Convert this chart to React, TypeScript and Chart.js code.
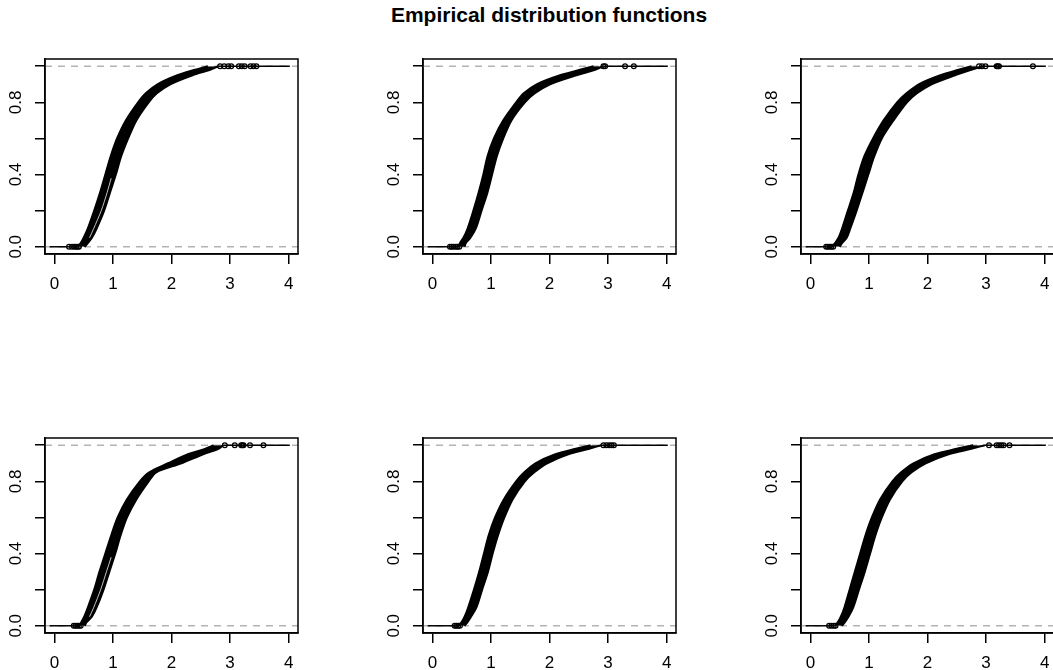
import React, { useEffect, useRef } from 'react';
import { Chart, registerables } from 'chart.js';

Chart.register(...registerables);

const FONT = '"Liberation Sans", Arial, Helvetica, sans-serif';

// ---------- data ----------
const title = 'Empirical distribution functions';
const xTicks = [0, 1, 2, 3, 4];
const xTickLabels = ['0', '1', '2', '3', '4'];
const yTicks = [0, 0.2, 0.4, 0.6, 0.8, 1.0];
const yTickLabels = ['0.0', '', '0.4', '', '0.8', ''];
const xRange = [-0.16, 4.16];
const yRange = [-0.04, 1.04];
const ecdfEnds = [-0.08, 4.02];
const refLines = [0, 1];

// cumulative probability levels at which the outline of the dense band of points was read
const bandLevels = [0, 0.02, 0.05, 0.1, 0.2, 0.3, 0.4, 0.5, 0.6, 0.7, 0.8, 0.85, 0.9, 0.95, 0.98, 1];
// levels of the thin light gap visible inside the band of some panels
const gapLevels = [0.05, 0.1, 0.2, 0.3, 0.38];

const p1Left = [0.40, 0.45, 0.50, 0.57, 0.68, 0.78, 0.87, 0.96, 1.07, 1.22, 1.43, 1.56, 1.76, 2.10, 2.40, 2.62];
const p1Right = [0.52, 0.57, 0.64, 0.72, 0.85, 0.95, 1.05, 1.14, 1.26, 1.40, 1.61, 1.75, 1.98, 2.36, 2.66, 2.80];
const p1Start = [0.25, 0.30, 0.34, 0.37, 0.40, 0.42];
const p1Tail = [2.83, 2.90, 2.97, 3.02, 3.15, 3.20, 3.25, 3.35, 3.40, 3.45];
const p1Gap = [0.60, 0.67, 0.80, 0.90, 0.97];

const p2Left = [0.45, 0.47, 0.53, 0.60, 0.70, 0.79, 0.87, 0.94, 1.05, 1.21, 1.43, 1.56, 1.78, 2.18, 2.52, 2.75];
const p2Right = [0.55, 0.57, 0.65, 0.74, 0.84, 0.94, 1.02, 1.10, 1.21, 1.35, 1.58, 1.75, 2.01, 2.46, 2.78, 2.92];
const p2Start = [0.30, 0.33, 0.36, 0.40, 0.43, 0.46];
const p2Tail = [2.92, 2.95, 3.29, 3.44];
const p2Gap: number[] = [];

const p3Left = [0.37, 0.42, 0.48, 0.54, 0.64, 0.74, 0.82, 0.92, 1.07, 1.25, 1.48, 1.64, 1.85, 2.22, 2.53, 2.75];
const p3Right = [0.50, 0.54, 0.62, 0.68, 0.79, 0.89, 0.99, 1.09, 1.22, 1.42, 1.65, 1.82, 2.07, 2.47, 2.75, 2.95];
const p3Start = [0.27, 0.30, 0.33, 0.36, 0.39];
const p3Tail = [2.88, 2.93, 2.99, 3.18, 3.20, 3.22, 3.80];
const p3Gap: number[] = [];

const p4Left = [0.43, 0.46, 0.51, 0.57, 0.68, 0.77, 0.87, 0.97, 1.08, 1.24, 1.46, 1.62, 1.94, 2.28, 2.57, 2.72];
const p4Right = [0.52, 0.55, 0.64, 0.72, 0.84, 0.94, 1.04, 1.13, 1.24, 1.40, 1.61, 1.74, 2.17, 2.54, 2.80, 2.88];
const p4Start = [0.33, 0.36, 0.39, 0.42, 0.45];
const p4Tail = [2.91, 3.08, 3.19, 3.21, 3.23, 3.34, 3.57];
const p4Gap = [0.60, 0.67, 0.79, 0.89, 0.97];

const p5Left = [0.45, 0.50, 0.55, 0.61, 0.71, 0.80, 0.88, 0.96, 1.07, 1.22, 1.43, 1.57, 1.76, 2.10, 2.45, 2.70];
const p5Right = [0.55, 0.60, 0.66, 0.75, 0.85, 0.95, 1.03, 1.12, 1.23, 1.37, 1.58, 1.74, 1.96, 2.32, 2.68, 2.88];
const p5Start = [0.38, 0.41, 0.44, 0.47];
const p5Tail = [2.92, 2.97, 3.02, 3.06, 3.10];
const p5Gap: number[] = [];

const p6Left = [0.42, 0.47, 0.52, 0.58, 0.67, 0.76, 0.85, 0.94, 1.05, 1.19, 1.40, 1.55, 1.76, 2.12, 2.50, 2.78];
const p6Right = [0.54, 0.59, 0.65, 0.73, 0.83, 0.93, 1.02, 1.11, 1.22, 1.36, 1.57, 1.73, 1.97, 2.36, 2.75, 2.98];
const p6Start = [0.32, 0.36, 0.40, 0.43];
const p6Tail = [3.05, 3.18, 3.22, 3.26, 3.30, 3.40];
const p6Gap: number[] = [];

const panels = [
  { left: p1Left, right: p1Right, start: p1Start, tail: p1Tail, gap: p1Gap },
  { left: p2Left, right: p2Right, start: p2Start, tail: p2Tail, gap: p2Gap },
  { left: p3Left, right: p3Right, start: p3Start, tail: p3Tail, gap: p3Gap },
  { left: p4Left, right: p4Right, start: p4Start, tail: p4Tail, gap: p4Gap },
  { left: p5Left, right: p5Right, start: p5Start, tail: p5Tail, gap: p5Gap },
  { left: p6Left, right: p6Right, start: p6Start, tail: p6Tail, gap: p6Gap },
];

// ---------- layout ----------
const boxLefts = [45, 423, 801];
const boxTops = [59, 438];
const BOX_W = 253;
const BOX_H = 195;
const PAD_L = 45;
const PAD_T = 20;
const PAD_R = 10;
const X_AXIS_H = 50;
const Y_AXIS_W = 10;
const CANVAS_W = PAD_L + BOX_W + PAD_R;
const CANVAS_H = PAD_T + BOX_H + X_AXIS_H;

const rPlotPlugin = {
  id: 'rPlot',
  afterDraw(chart: any) {
    const { ctx, chartArea: a } = chart;
    ctx.save();
    ctx.strokeStyle = '#000';
    ctx.lineWidth = 1.5;
    ctx.strokeRect(a.left, a.top, a.right - a.left, a.bottom - a.top);
    ctx.font = `17px ${FONT}`;
    ctx.fillStyle = '#000';
    ctx.textAlign = 'center';
    ctx.textBaseline = 'middle';
    const ys = chart.scales.y;
    yTicks.forEach((v, i) => {
      const lab = yTickLabels[i];
      if (!lab) return;
      const py = ys.getPixelForValue(v);
      ctx.save();
      ctx.translate(a.left - 28.5, py);
      ctx.rotate(-Math.PI / 2);
      ctx.fillText(lab, 0, 0);
      ctx.restore();
    });
    ctx.restore();
  },
};

function Panel({ index }: { index: number }) {
  const ref = useRef<HTMLCanvasElement | null>(null);
  const p = panels[index];
  const col = index % 3;
  const row = Math.floor(index / 3);
  const left = boxLefts[col] - PAD_L;
  const top = boxTops[row] - PAD_T;

  useEffect(() => {
    if (!ref.current) return;
    const last = p.right.length - 1;
    const hollow = {
      showLine: false,
      pointRadius: 2.4,
      pointBorderWidth: 1.2,
      pointBackgroundColor: 'rgba(0,0,0,0)',
      pointBorderColor: '#000',
      order: 1,
    };
    const datasets: any[] = [
      ...refLines.map((y) => ({
        data: [{ x: xRange[0], y }, { x: xRange[1], y }],
        borderColor: '#b3b3b3',
        borderWidth: 1.5,
        borderDash: [7, 6],
        pointRadius: 0,
        fill: false,
        order: 10,
      })),
      {
        data: bandLevels.map((y, i) => ({ x: p.left[i], y })),
        indexAxis: 'y',
        borderColor: '#000',
        borderWidth: 2,
        tension: 0.3,
        pointRadius: 0,
        fill: false,
        order: 5,
      },
      {
        data: bandLevels.map((y, i) => ({ x: p.right[i], y })),
        indexAxis: 'y',
        borderColor: '#000',
        borderWidth: 2,
        tension: 0.3,
        pointRadius: 0,
        fill: '-1',
        backgroundColor: '#000',
        order: 5,
      },
      {
        data: p.gap.map((x, i) => ({ x, y: gapLevels[i] })),
        indexAxis: 'y',
        borderColor: 'rgba(255,255,255,0.85)',
        borderWidth: 0.9,
        tension: 0.3,
        pointRadius: 0,
        fill: false,
        order: 3,
      },
      {
        data: [{ x: ecdfEnds[0], y: 0 }, { x: p.left[0], y: 0 }],
        borderColor: '#000',
        borderWidth: 1.5,
        pointRadius: 0,
        fill: false,
        order: 4,
      },
      {
        data: [{ x: p.right[last], y: 1 }, { x: ecdfEnds[1], y: 1 }],
        borderColor: '#000',
        borderWidth: 1.5,
        pointRadius: 0,
        fill: false,
        order: 4,
      },
      { data: p.start.map((x) => ({ x, y: 0 })), ...hollow },
      { data: p.tail.map((x) => ({ x, y: 1 })), ...hollow },
    ];

    const chart = new Chart(ref.current, {
      type: 'line',
      data: { datasets },
      options: {
        responsive: false,
        maintainAspectRatio: false,
        animation: false,
        events: [],
        layout: { padding: { left: PAD_L - Y_AXIS_W, top: PAD_T, right: PAD_R, bottom: 0 } },
        plugins: { legend: { display: false }, tooltip: { enabled: false }, title: { display: false } },
        scales: {
          x: {
            type: 'linear',
            min: xRange[0],
            max: xRange[1],
            afterBuildTicks: (s: any) => {
              s.ticks = xTicks.map((v) => ({ value: v }));
            },
            afterFit: (s: any) => {
              s.height = X_AXIS_H;
            },
            ticks: {
              autoSkip: false,
              maxRotation: 0,
              minRotation: 0,
              padding: 10,
              color: '#000',
              font: { size: 17, family: FONT },
              callback: (_v: any, i: number) => xTickLabels[i],
            },
            grid: { drawOnChartArea: false, drawTicks: true, tickLength: 10, color: '#000', lineWidth: 1.5 },
            border: { display: true, color: '#000', width: 1.5 },
          },
          y: {
            type: 'linear',
            min: yRange[0],
            max: yRange[1],
            afterBuildTicks: (s: any) => {
              s.ticks = yTicks.map((v) => ({ value: v }));
            },
            afterFit: (s: any) => {
              s.width = Y_AXIS_W;
            },
            ticks: { display: false },
            grid: { drawOnChartArea: false, drawTicks: true, tickLength: 10, color: '#000', lineWidth: 1.5 },
            border: { display: true, color: '#000', width: 1.5 },
          },
        },
      } as any,
      plugins: [rPlotPlugin],
    });
    return () => chart.destroy();
  }, [index]);

  return (
    <canvas
      ref={ref}
      width={CANVAS_W}
      height={CANVAS_H}
      style={{ position: 'absolute', left, top, width: CANVAS_W, height: CANVAS_H }}
    />
  );
}

export default function App() {
  return (
    <div
      style={{
        position: 'absolute',
        left: 0,
        top: 0,
        width: 1053,
        height: 670,
        overflow: 'hidden',
        background: '#fff',
      }}
    >
      <div
        style={{
          position: 'absolute',
          left: 0,
          top: 3,
          width: 1098,
          textAlign: 'center',
          font: `bold 21px ${FONT}`,
          lineHeight: '24px',
          color: '#000',
        }}
      >
        {title}
      </div>
      {panels.map((_, i) => (
        <Panel key={i} index={i} />
      ))}
    </div>
  );
}
